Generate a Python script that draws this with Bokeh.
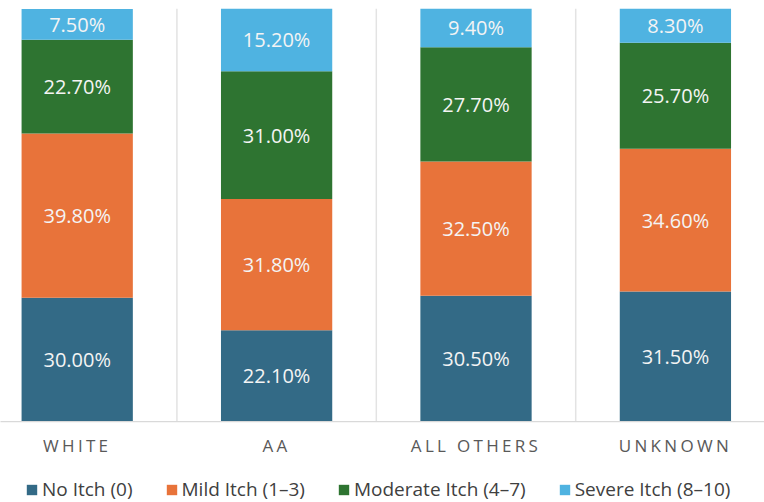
from bokeh.plotting import figure
from bokeh.models import ColumnDataSource, Range1d, Span, Legend, LegendItem, FixedTicker, InlineStyleSheet
from bokeh.layouts import column
from bokeh.embed import file_html
from bokeh.resources import INLINE
from bokeh.core.properties import value
import numpy as np

categories = ["WHITE", "AA", "ALL OTHERS", "UNKNOWN"]
series_names = ["No Itch (0)", "Mild Itch (1\u20133)", "Moderate Itch (4\u20137)", "Severe Itch (8\u201310)"]
no_itch = [30.0, 22.1, 30.5, 31.5]
mild_itch = [39.8, 31.8, 32.5, 34.6]
moderate_itch = [22.7, 31.0, 27.7, 25.7]
severe_itch = [7.5, 15.2, 9.4, 8.3]
colors = ["#336A86", "#E8733A", "#2E7431", "#4FB3E1"]

keys = ["s0", "s1", "s2", "s3"]
series = [no_itch, mild_itch, moderate_itch, severe_itch]
xpos = np.arange(len(categories)) + 0.5
data = {"x": xpos}
for k, s in zip(keys, series):
    data[k] = s
source = ColumnDataSource(data)

W = 764
xr = Range1d(0.1153, 3.9468)
px_per_unit = W / (xr.end - xr.start)
LETTER_SPACING = 3.3

# main chart (bars + value labels)
p = figure(width=W, height=421, output_backend="svg", toolbar_location=None,
           x_range=xr, y_range=Range1d(0, 100.1),
           x_axis_location=None, y_axis_location=None,
           min_border_left=0, min_border_right=0, min_border_top=8, min_border_bottom=0)
p.outline_line_color = None
p.xgrid.visible = False
p.ygrid.visible = False

for loc in range(1, len(categories)):
    p.add_layout(Span(location=loc, dimension="height", line_color="#E3E3E3", line_width=1.5))

renderers = p.vbar_stack(keys, x="x", width=0.558, source=source, color=colors,
                         line_color=None)

bottoms = np.zeros(len(categories))
lx, ly, lt = [], [], []
for s in series:
    arr = np.array(s)
    mids = bottoms + arr / 2
    for i in range(len(categories)):
        lx.append(xpos[i]); ly.append(mids[i]); lt.append(f"{arr[i]:.2f}%")
    bottoms = bottoms + arr
lsrc = ColumnDataSource(dict(x=lx, y=ly, t=lt))
p.text(x="x", y="y", text="t", source=lsrc, text_color="#F4F4F4",
       text_font=value("Open Sans"), text_font_size="20px",
       text_align="center", text_baseline="middle")

# category axis strip (letter-spaced labels; ticks nudged to keep them centred)
xa = figure(width=W, height=36, output_backend="svg", toolbar_location=None,
            x_range=xr, y_range=Range1d(0, 1), y_axis_location=None,
            min_border_left=0, min_border_right=0, min_border_top=0, min_border_bottom=35)
xa.outline_line_color = None
xa.xgrid.visible = False
xa.ygrid.visible = False
xa.stylesheets = [InlineStyleSheet(css=":host { letter-spacing: %.1fpx; }" % LETTER_SPACING)]
ticks = [float(x - len(c) * LETTER_SPACING / 2 / px_per_unit) for x, c in zip(xpos, categories)]
ax = xa.xaxis[0]
ax.ticker = FixedTicker(ticks=ticks)
ax.major_label_overrides = {t: c for t, c in zip(ticks, categories)}
ax.major_tick_out = 0
ax.major_tick_in = 0
ax.major_tick_line_color = None
ax.minor_tick_line_color = None
ax.axis_line_color = "#D9D9D9"
ax.axis_line_width = 1.5
ax.major_label_text_font = "Open Sans"
ax.major_label_text_font_size = "17px"
ax.major_label_text_color = "#595959"
ax.major_label_standoff = 12

# legend strip (its bars lie outside its visible y range)
lg = figure(width=W, height=45, output_backend="svg", toolbar_location=None,
            x_range=Range1d(0, 4), y_range=Range1d(150, 151),
            x_axis_location=None, y_axis_location=None,
            min_border_left=0, min_border_right=0, min_border_top=0, min_border_bottom=0)
lg.outline_line_color = None
lg.xgrid.visible = False
lg.ygrid.visible = False
dummies = lg.vbar_stack(keys, x="x", width=0.558, source=source, color=colors, line_color=None)

items = [LegendItem(label=n, renderers=[r]) for n, r in zip(series_names, dummies)]
legend = Legend(items=items, orientation="horizontal", location=(25, 0),
                glyph_width=13, glyph_height=13, label_standoff=4, spacing=32,
                padding=0, margin=0, border_line_color=None, background_fill_alpha=0,
                label_text_font="Open Sans", label_text_font_size="19px",
                label_text_color="#404040")
lg.add_layout(legend, "center")

layout = column(p, xa, lg, spacing=0)
open("out.html", "w").write(file_html(layout, INLINE))
